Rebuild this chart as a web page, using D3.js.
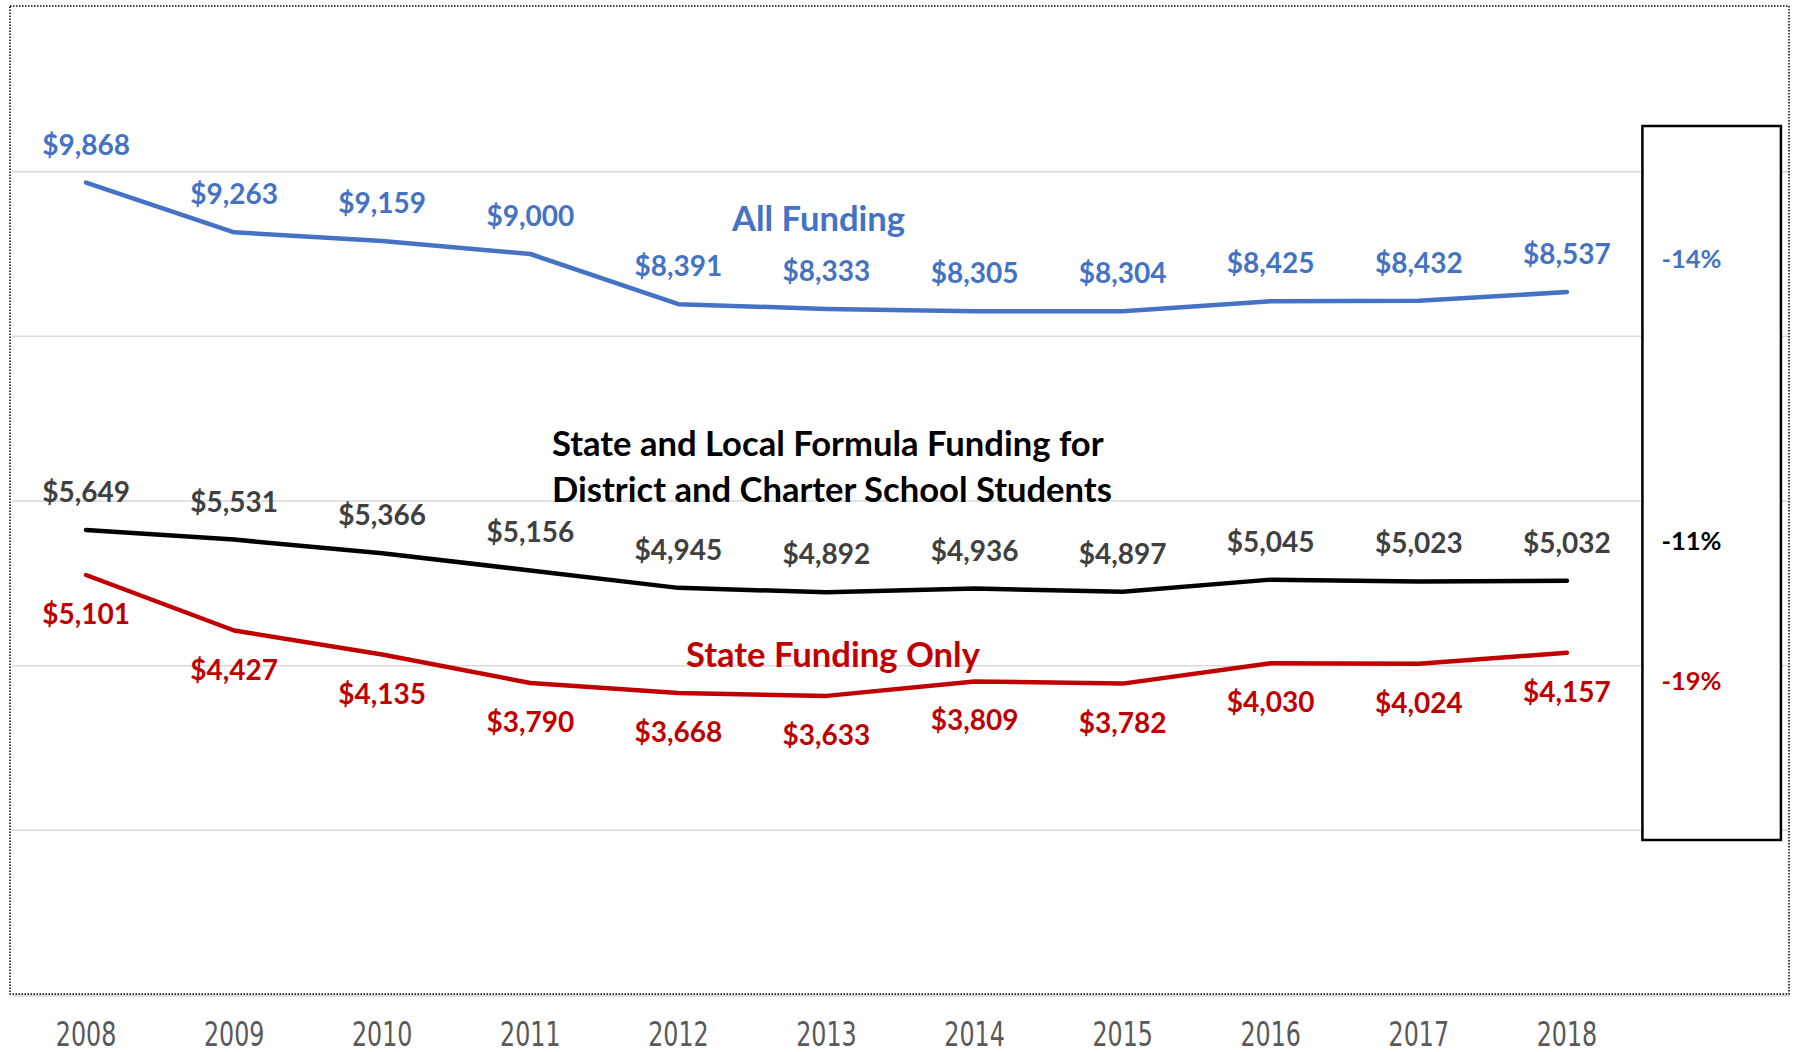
<!DOCTYPE html>
<html>
<head>
<meta charset="utf-8">
<script src="https://cdn.jsdelivr.net/npm/d3@7"></script>
<style>
  body { margin: 0; background: #fff; }
  svg { display: block; font-family: Lato, "Open Sans", sans-serif; }
</style>
</head>
<body>
<svg id="chart"></svg>
<script>
// Data
const years = ['2008', '2009', '2010', '2011', '2012', '2013', '2014', '2015', '2016', '2017', '2018'];
const allFunding = [9868, 9263, 9159, 9000, 8391, 8333, 8305, 8304, 8425, 8432, 8537];
const formulaFunding = [5649, 5531, 5366, 5156, 4945, 4892, 4936, 4897, 5045, 5023, 5032];
const stateFunding = [5101, 4427, 4135, 3790, 3668, 3633, 3809, 3782, 4030, 4024, 4157];
const changeLabels = ['-14%', '-11%', '-19%'];
const gridTicks = [2000, 4000, 6000, 8000, 10000];

const width = 1793, height = 1052;
const svg = d3.select('#chart').attr('width', width).attr('height', height);

// one empty slot after 2018 holds the change box, like the original
const xScale = d3.scaleBand()
  .domain(years.concat(['']))
  .range([12, 1789]);
const xc = d => xScale(d) + xScale.bandwidth() / 2;

const yScale = d3.scaleLinear()
  .domain([0, 12000])
  .range([995, 7]);

// gridlines
svg.append('g').selectAll('line')
  .data(gridTicks)
  .join('line')
  .attr('x1', 12).attr('x2', 1789)
  .attr('y1', d => yScale(d)).attr('y2', d => yScale(d))
  .attr('stroke', '#d9d9d9').attr('stroke-width', 1.5);

// x axis, tick labels squeezed to mimic the narrow original face
const xAxis = d3.axisBottom(xScale).tickSize(0).tickPadding(0);
const xAxisG = svg.append('g')
  .attr('transform', `translate(0,${yScale(0)})`)
  .call(xAxis);
xAxisG.select('.domain').attr('stroke', '#d9d9d9').attr('stroke-width', 2.5);
xAxisG.selectAll('text')
  .attr('y', 51)
  .attr('dy', null)
  .attr('transform', 'scale(0.8,1)')
  .attr('fill', '#595959')
  .style('font-size', '33px')
  .style('font-family', '"DejaVu Sans Condensed", "DejaVu Sans", sans-serif');

// dotted outer border
svg.append('rect')
  .attr('x', 10).attr('y', 6)
  .attr('width', 1779).attr('height', 988)
  .attr('fill', 'none')
  .attr('stroke', '#000')
  .attr('stroke-width', 1.5)
  .attr('stroke-dasharray', '1.5,1.5');

const series = [
  {values: allFunding, line: '#4472C4', text: '#4472C4', below: false},
  {values: formulaFunding, line: '#000000', text: '#404040', below: false},
  {values: stateFunding, line: '#C00000', text: '#C00000', below: true}
];

const line = d3.line()
  .x((d, i) => xc(years[i]))
  .y(d => yScale(d));

series.forEach(s => {
  svg.append('path')
    .datum(s.values)
    .attr('d', line)
    .attr('fill', 'none')
    .attr('stroke', s.line)
    .attr('stroke-width', 4.5)
    .attr('stroke-linecap', 'round')
    .attr('stroke-linejoin', 'round');

  svg.append('g').selectAll('text')
    .data(s.values)
    .join('text')
    .attr('x', (d, i) => xc(years[i]))
    .attr('y', d => yScale(d) + (s.below ? 49 : -28))
    .attr('text-anchor', 'middle')
    .attr('fill', s.text)
    .style('font-size', '28px')
    .style('font-weight', 'bold')
    .text(d => '$' + d3.format(',')(d));
});

// series names and title
const bigText = (x, y, txt, color) => svg.append('text')
  .attr('x', x).attr('y', y)
  .attr('fill', color)
  .style('font-size', '34.6px')
  .style('font-weight', 'bold')
  .text(txt);

bigText(732, 231, 'All Funding', '#4472C4');
bigText(552, 456, 'State and Local Formula Funding for', '#000');
bigText(552, 502, 'District and Charter School Students', '#000');
bigText(686, 667, 'State Funding Only', '#C00000');

// change box in the empty slot
const boxX = xScale('') + 1.5;
svg.append('rect')
  .attr('x', boxX).attr('y', 126)
  .attr('width', 138.5).attr('height', 714)
  .attr('fill', '#fff')
  .attr('stroke', '#000')
  .attr('stroke-width', 2.5);

svg.append('g').selectAll('text')
  .data(changeLabels)
  .join('text')
  .attr('x', boxX + 19)
  .attr('y', (d, i) => [268, 550, 690][i])
  .attr('fill', (d, i) => ['#4472C4', '#000', '#C00000'][i])
  .style('font-size', '25.5px')
  .style('font-weight', 'bold')
  .text(d => d);
</script>
</body>
</html>
